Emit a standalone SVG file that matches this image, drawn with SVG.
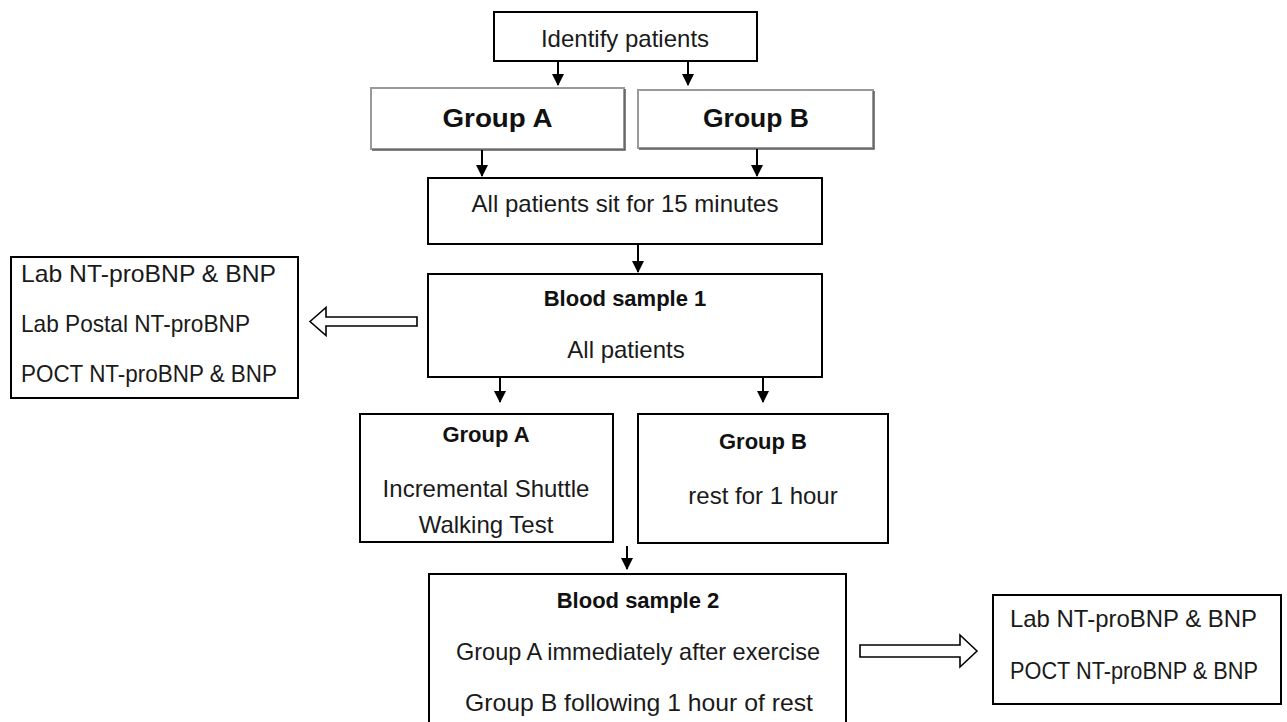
<svg xmlns="http://www.w3.org/2000/svg" width="1287" height="722" viewBox="0 0 1287 722">
  <style>
    .box { fill: #ffffff; stroke: #000000; stroke-width: 2; }
    .gbox { fill: #ffffff; stroke: #9a9a9a; stroke-width: 2; }
    .gshadow { fill: none; stroke: #5a5a5a; stroke-width: 1.5; }
    .t { font-family: "Liberation Sans", Arial, sans-serif; font-size: 24px; fill: #1a1a1a; }
    .b { font-family: "Liberation Sans", Arial, sans-serif; font-size: 22px; font-weight: bold; fill: #111111; }
    .g { font-family: "Liberation Sans", Arial, sans-serif; font-size: 26.5px; font-weight: bold; fill: #111111; }
    .c { text-anchor: middle; }
    .conn { stroke: #000000; stroke-width: 2; fill: none; }
    .hollow { fill: #ffffff; stroke: #000000; stroke-width: 1.6; stroke-linejoin: miter; }
  </style>
  <defs>
    <marker id="ah" markerUnits="userSpaceOnUse" markerWidth="12" markerHeight="12" viewBox="0 0 12 12" refX="11" refY="6" orient="auto">
      <path d="M0,0 L12,6 L0,12 z" fill="#000000"/>
    </marker>
  </defs>

  <g id="identify">
    <rect class="box" x="494" y="12" width="263" height="49"/>
    <text class="t c" x="625" y="47">Identify patients</text>
  </g>

  <g id="groupA-top">
    <rect class="gbox" x="371" y="88" width="253" height="61"/>
    <polyline class="gshadow" points="625,89 625,150 372,150"/>
    <text class="g c" x="497.5" y="127" textLength="110" lengthAdjust="spacingAndGlyphs">Group A</text>
  </g>

  <g id="groupB-top">
    <rect class="gbox" x="638" y="90" width="235" height="58"/>
    <polyline class="gshadow" points="874,91 874,149 639,149"/>
    <text class="g c" x="756" y="127" textLength="106" lengthAdjust="spacingAndGlyphs">Group B</text>
  </g>

  <g id="sit">
    <rect class="box" x="428" y="178" width="394" height="66"/>
    <text class="t c" x="625" y="212">All patients sit for 15 minutes</text>
  </g>

  <g id="sample1">
    <rect class="box" x="428" y="274" width="394" height="103"/>
    <text class="b c" x="625" y="306">Blood sample 1</text>
    <text class="t c" x="626" y="358">All patients</text>
  </g>

  <g id="tests1">
    <rect class="box" x="11" y="257" width="287" height="141"/>
    <text class="t" x="21" y="282" textLength="255" lengthAdjust="spacingAndGlyphs">Lab NT-proBNP &amp; BNP</text>
    <text class="t" x="21" y="332" textLength="229" lengthAdjust="spacingAndGlyphs">Lab Postal NT-proBNP</text>
    <text class="t" x="21" y="382" textLength="256" lengthAdjust="spacingAndGlyphs">POCT NT-proBNP &amp; BNP</text>
  </g>

  <g id="groupA-low">
    <rect class="box" x="360" y="414" width="253" height="128"/>
    <text class="b c" x="486" y="442">Group A</text>
    <text class="t c" x="486" y="497">Incremental Shuttle</text>
    <text class="t c" x="486" y="533">Walking Test</text>
  </g>

  <g id="groupB-low">
    <rect class="box" x="638" y="414" width="250" height="129"/>
    <text class="b c" x="763" y="449">Group B</text>
    <text class="t c" x="763" y="504">rest for 1 hour</text>
  </g>

  <g id="sample2">
    <rect class="box" x="429" y="574" width="417" height="160"/>
    <text class="b c" x="638" y="608">Blood sample 2</text>
    <text class="t c" x="638" y="660" textLength="364" lengthAdjust="spacingAndGlyphs">Group A immediately after exercise</text>
    <text class="t c" x="639" y="711" textLength="348" lengthAdjust="spacingAndGlyphs">Group B following 1 hour of rest</text>
  </g>

  <g id="tests2">
    <rect class="box" x="993" y="595" width="288" height="109"/>
    <text class="t" x="1010" y="627" textLength="247" lengthAdjust="spacingAndGlyphs">Lab NT-proBNP &amp; BNP</text>
    <text class="t" x="1010" y="679" textLength="248" lengthAdjust="spacingAndGlyphs">POCT NT-proBNP &amp; BNP</text>
  </g>

  <g id="connectors">
    <line class="conn" x1="558" y1="61" x2="558" y2="85" marker-end="url(#ah)"/>
    <line class="conn" x1="688" y1="61" x2="688" y2="85" marker-end="url(#ah)"/>
    <line class="conn" x1="482" y1="150" x2="482" y2="176" marker-end="url(#ah)"/>
    <line class="conn" x1="757" y1="149" x2="757" y2="176" marker-end="url(#ah)"/>
    <line class="conn" x1="638" y1="244" x2="638" y2="272" marker-end="url(#ah)"/>
    <line class="conn" x1="500" y1="377" x2="500" y2="402" marker-end="url(#ah)"/>
    <line class="conn" x1="763" y1="377" x2="763" y2="402" marker-end="url(#ah)"/>
    <line class="conn" x1="627" y1="546" x2="627" y2="569" marker-end="url(#ah)"/>
    <polygon class="hollow" points="310,321.5 326,307.5 326,317 417,317 417,326 326,326 326,335.5"/>
    <polygon class="hollow" points="977,651 960,635 960,645 860,645 860,657 960,657 960,667"/>
  </g>
</svg>
